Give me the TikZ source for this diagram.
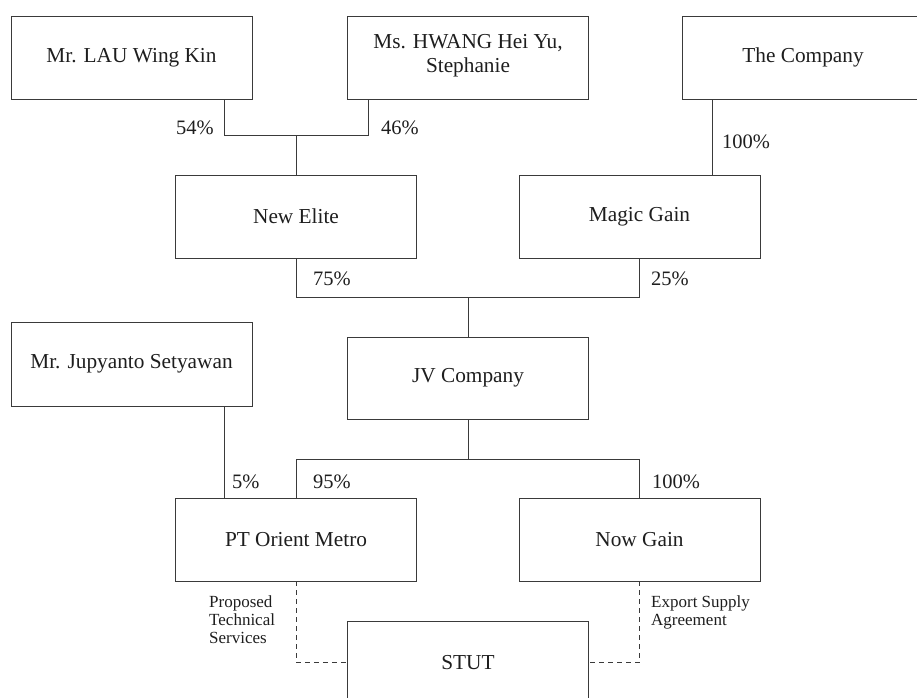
\documentclass[tikz,border=0pt]{standalone}
\usepackage{fontspec}
\setmainfont{Liberation Serif}
\definecolor{lc}{HTML}{3A3A3A}
\definecolor{tc}{HTML}{1E1E1E}
\begin{document}
\begin{tikzpicture}[x=1pt,y=-1pt,
  box/.style={draw=lc, line width=0.9pt, minimum width=241pt, minimum height=83pt, inner sep=0pt, align=center, font=\fontsize{21.3}{15}\selectfont, text=tc},
  boxline/.style={inner sep=0pt, font=\fontsize{21.3}{15}\selectfont, text=tc},
  pct/.style={inner sep=0pt, font=\fontsize{20.5}{20}\selectfont, text=tc},
  note/.style={inner sep=0pt, align=left, font=\fontsize{17}{18}\selectfont, text=tc},
  conn/.style={draw=lc, line width=0.9pt},
  dashconn/.style={conn, dash pattern=on 5pt off 4pt}]
\useasboundingbox (0,0) rectangle (917,697);
\clip (0,0) rectangle (917,697);

% boxes
\node[box] (lau) at (131.5,57.5) {Mr. LAU Wing Kin};
\node[box] (hw)  at (468,57.5) {};
\node[boxline, anchor=base] (hw1) at (468,48.5) {Ms. HWANG Hei Yu,};
\node[boxline, anchor=base] (hw2) at (468,72) {Stephanie};
\node[box] (co)  at (803,57.5) {The Company};
\node[box] (ne)  at (296,216.5) {New Elite};
\node[box] (mg)  at (639.5,216.5) {Magic Gain};
\node[box, minimum height=84pt] (jp) at (131.5,364) {Mr. Jupyanto Setyawan};
\node[box, minimum height=82pt] (jv) at (468,378) {JV Company};
\node[box] (pt)  at (296,539.5) {PT Orient Metro};
\node[box] (now) at (639.5,539.5) {Now Gain};
\node[box] (stut) at (468,662.5) {STUT};

% junction coordinates
\coordinate (a1) at (224,135);
\coordinate (a2) at (368,135);
\coordinate (c1) at (712,0);
\coordinate (b)  at (468,297);
\coordinate (d)  at (468,459);
\coordinate (e)  at (224,0);

% connectors
\draw[conn] (lau.south -| a1) -- (a1) -- (a2) -- (hw.south -| a2);
\draw[conn] (a1 -| ne.north) -- (ne.north);
\draw[conn] (co.south -| c1) -- (mg.north -| c1);
\draw[conn] (ne.south) -- (ne.south |- b) -- (mg.south |- b) -- (mg.south);
\draw[conn] (b) -- (jv.north);
\draw[conn] (jv.south) -- (d);
\draw[conn] (pt.north) -- (pt.north |- d) -- (now.north |- d) -- (now.north);
\draw[conn] (jp.south -| e) -- (pt.north -| e);
\draw[dashconn] (pt.south) |- (stut.west);
\draw[dashconn] (now.south) |- (stut.east);

% percentage labels
\node[pct, anchor=base east] (l54) at (214,134) {54\%};
\node[pct, anchor=base west] (l46) at (381,134) {46\%};
\node[pct, anchor=base west] (l100a) at (722,148) {100\%};
\node[pct, anchor=base west] (l75) at (313,285) {75\%};
\node[pct, anchor=base west] (l25) at (651,285) {25\%};
\node[pct, anchor=base west] (l5) at (232,488) {5\%};
\node[pct, anchor=base west] (l95) at (313,488) {95\%};
\node[pct, anchor=base west] (l100b) at (652,488) {100\%};

% notes
\node[note, anchor=north west] (n1) at (209,595.5) {Proposed\\Technical\\Services};
\node[note, anchor=north west] (n2) at (651,595.5) {Export Supply\\Agreement};
\end{tikzpicture}
\end{document}
